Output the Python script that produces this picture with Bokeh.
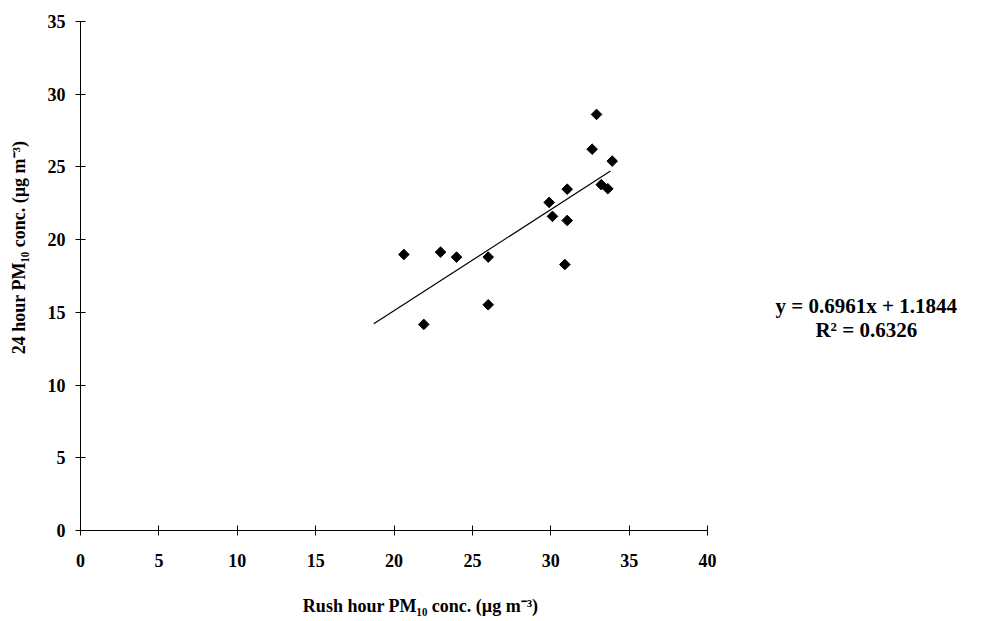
import math
from bokeh.plotting import figure
from bokeh.models import Range1d, Label, FixedTicker, LinearAxis
from bokeh.embed import file_html
from bokeh.resources import INLINE

# Paired PM10 measurements (µg m^-3)
rush_hour = [20.63, 21.9, 22.97, 23.99, 26.01, 26.01, 29.9, 30.11, 31.05, 31.05,
             30.9, 32.64, 32.92, 33.92, 33.22, 33.64]
day_24h = [18.98, 14.17, 19.14, 18.8, 18.8, 15.52, 22.56, 21.6, 23.47, 21.32,
           18.29, 26.22, 28.61, 25.4, 23.78, 23.5]

# Linear trendline
slope = 0.6961
intercept = 1.1844
r_squared = 0.6326
trend_x = [18.71, 33.81]

x_ticks = [0, 5, 10, 15, 20, 25, 30, 35, 40]
y_ticks = [0, 5, 10, 15, 20, 25, 30, 35]

x_title = "Rush hour PM\u2081\u2080 conc. (\u00b5g m\u207b\u00b3)"
y_title = "24 hour PM\u2081\u2080 conc. (\u00b5g m\u207b\u00b3)"

FONT = "Liberation Serif"

# The frame fills the whole canvas; the axes sit at the data origin so that
# titles and the equation can be placed in data space around them.
p = figure(width=981, height=621, output_backend="svg", toolbar_location=None,
           x_range=Range1d(-5.104, 57.48), y_range=Range1d(-6.259, 36.444),
           x_axis_location=None, y_axis_location=None,
           min_border=0, min_border_left=0, min_border_right=0,
           min_border_top=0, min_border_bottom=0)
p.outline_line_color = None
p.grid.grid_line_color = None
p.background_fill_color = "white"
p.border_fill_color = "white"

xaxis = LinearAxis(fixed_location=0, bounds=(0, 40), ticker=FixedTicker(ticks=x_ticks))
yaxis = LinearAxis(fixed_location=0, bounds=(0, 35), ticker=FixedTicker(ticks=y_ticks))
p.add_layout(xaxis, "below")
p.add_layout(yaxis, "left")

for ax in (xaxis, yaxis):
    ax.axis_line_color = "black"
    ax.axis_line_width = 1
    ax.major_tick_line_color = "black"
    ax.minor_tick_line_color = None
    ax.major_tick_in = 5
    ax.major_tick_out = 5
    ax.major_label_text_font = FONT
    ax.major_label_text_font_style = "bold"
    ax.major_label_text_font_size = "18px"
    ax.major_label_text_color = "black"
xaxis.major_label_standoff = 19
yaxis.major_label_standoff = 10

p.line(trend_x, [slope * x + intercept for x in trend_x], line_color="black", line_width=1.2)
p.scatter(rush_hour, day_24h, marker="square", angle=math.pi / 4, size=7.5, color="black")

title_style = dict(text_font=FONT, text_font_style="bold", text_color="black",
                   text_align="center")
p.add_layout(Label(x=21.7, y=-5.16, text=x_title, text_font_size="18px",
                   text_baseline="alphabetic", **title_style))
p.add_layout(Label(x=-3.9, y=19.46, text=y_title, text_font_size="18px",
                   angle=math.pi / 2, text_baseline="middle", **title_style))

p.add_layout(Label(x=50.13, y=15.43, text=f"y = {slope:.4f}x + {intercept:.4f}",
                   text_font_size="21px", text_baseline="middle", **title_style))
p.add_layout(Label(x=50.13, y=13.78, text=f"R\u00b2 = {r_squared:.4f}",
                   text_font_size="21px", text_baseline="middle", **title_style))

open("out.html", "w").write(file_html(p, INLINE))
